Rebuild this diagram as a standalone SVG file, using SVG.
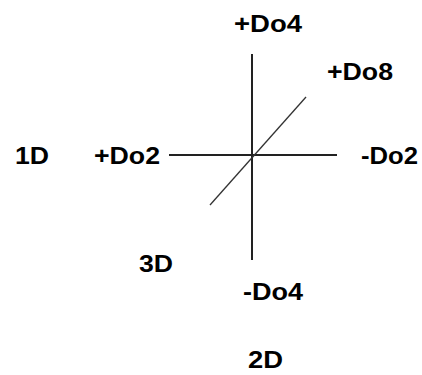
<svg xmlns="http://www.w3.org/2000/svg" width="422" height="375" viewBox="0 0 422 375">
<style>
text{font-family:"Liberation Sans",Arial,sans-serif;font-weight:bold;font-size:24px;fill:#000}
.ax{stroke:#222;stroke-width:2;fill:none}
.dg{stroke:#333;stroke-width:1.3;fill:none}
</style>
<rect width="422" height="375" fill="#fff"/>
<g id="connectors">
<line class="ax" x1="252" y1="54" x2="252" y2="260"/>
<line class="ax" x1="169" y1="155" x2="337" y2="155"/>
<line class="dg" x1="306" y1="97" x2="210" y2="205"/>
</g>
<g id="n_pDo4"><text x="234" y="32" textLength="68" lengthAdjust="spacingAndGlyphs">+Do4</text></g>
<g id="n_pDo8"><text x="327" y="80" textLength="66" lengthAdjust="spacingAndGlyphs">+Do8</text></g>
<g id="n_1D"><text x="15" y="164" textLength="34" lengthAdjust="spacingAndGlyphs">1D</text></g>
<g id="n_pDo2"><text x="94" y="164" textLength="66" lengthAdjust="spacingAndGlyphs">+Do2</text></g>
<g id="n_mDo2"><text x="361" y="164" textLength="57" lengthAdjust="spacingAndGlyphs">-Do2</text></g>
<g id="n_3D"><text x="139" y="272" textLength="34" lengthAdjust="spacingAndGlyphs">3D</text></g>
<g id="n_mDo4"><text x="243" y="300" textLength="60" lengthAdjust="spacingAndGlyphs">-Do4</text></g>
<g id="n_2D"><text x="248" y="368" textLength="35" lengthAdjust="spacingAndGlyphs">2D</text></g>
</svg>
